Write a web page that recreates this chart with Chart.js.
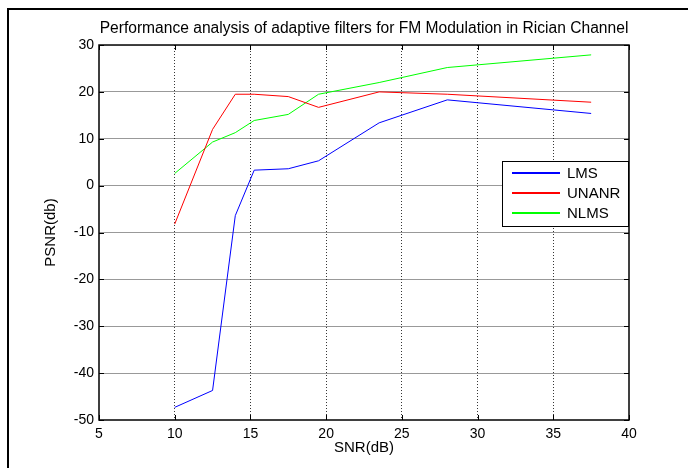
<!DOCTYPE html>
<html>
<head>
<meta charset="utf-8">
<script src="https://cdn.jsdelivr.net/npm/chart.js@4.4.0/dist/chart.umd.min.js"></script>
<style>
html,body{margin:0;padding:0;background:#fff;}
#wrap{width:688px;height:468px;}
</style>
</head>
<body>
<div id="wrap"><canvas id="c" width="688" height="468"></canvas></div>
<script>
const snr = [10, 12.5, 14, 15.25, 17.5, 19.5, 23.5, 28, 37.5];
const lms = [-47.3, -43.7, -6.4, 3.3, 3.6, 5.3, 13.4, 18.3, 15.4];
const unanr = [-8.2, 12.0, 19.5, 19.5, 19.0, 16.7, 20.0, 19.5, 17.8];
const nlms = [2.6, 9.3, 11.3, 13.9, 15.2, 19.5, 22.0, 25.2, 27.9];
const xTicks = [5, 10, 15, 20, 25, 30, 35, 40];
const yTicks = [-50, -40, -30, -20, -10, 0, 10, 20, 30];
const seriesNames = ['LMS', 'UNANR', 'NLMS'];
const seriesColors = ['#0000ff', '#ff0000', '#00ff00'];

const FONT = 'Liberation Sans, Arial, sans-serif';

function pts(ys){ return snr.map((x,i)=>({x:x, y:ys[i]})); }

const framePlugin = {
  id: 'frame',
  beforeDraw(chart){
    const ctx = chart.ctx;
    ctx.save();
    ctx.fillStyle = '#fff';
    ctx.fillRect(0,0,chart.width,chart.height);
    ctx.fillStyle = '#000';
    ctx.fillRect(7, 8, 2, chart.height - 8);
    ctx.fillRect(7, 8, chart.width - 7, 2);
    ctx.restore();
  }
};

const boxPlugin = {
  id: 'box',
  afterDatasetsDraw(chart){
    const ctx = chart.ctx;
    const a = chart.chartArea;
    const xs = chart.scales.x, ys = chart.scales.y;
    ctx.save();
    ctx.setLineDash([]);
    ctx.strokeStyle = '#000';
    ctx.lineWidth = 1;
    ctx.beginPath();
    const tl = 5;
    xTicks.forEach(v=>{
      const px = Math.round(xs.getPixelForValue(v)) + 0.5;
      ctx.moveTo(px, a.bottom); ctx.lineTo(px, a.bottom - tl);
      ctx.moveTo(px, a.top); ctx.lineTo(px, a.top + tl);
    });
    yTicks.forEach(v=>{
      const py = Math.round(ys.getPixelForValue(v)) + 0.5;
      ctx.moveTo(a.left, py); ctx.lineTo(a.left + tl, py);
      ctx.moveTo(a.right, py); ctx.lineTo(a.right - tl, py);
    });
    ctx.stroke();
    ctx.lineWidth = 1.5;
    ctx.strokeRect(a.left, a.top, a.right - a.left, a.bottom - a.top);

    // legend
    const lx = 502, ly = 161, lw = 126, lh = 65;
    ctx.fillStyle = '#fff';
    ctx.fillRect(lx, ly, lw, lh);
    ctx.lineWidth = 1;
    ctx.strokeStyle = '#000';
    ctx.strokeRect(lx + 0.5, ly + 0.5, lw, lh);
    ctx.font = '15px ' + FONT;
    ctx.textBaseline = 'middle';
    ctx.textAlign = 'left';
    for (let i = 0; i < seriesNames.length; i++) {
      const yy = ly + 11 + i * 20;
      ctx.fillStyle = seriesColors[i];
      ctx.fillRect(512, yy, 48, 2);
    }
    ctx.fillStyle = '#000';
    for (let i = 0; i < seriesNames.length; i++) {
      const yy = ly + 12 + i * 20;
      ctx.fillText(seriesNames[i], 567, yy + 1);
    }
    ctx.restore();
  }
};

new Chart(document.getElementById('c'), {
  type: 'line',
  data: {
    datasets: seriesNames.map((n,i)=>({
      label: n,
      data: pts([lms, unanr, nlms][i]),
      borderColor: seriesColors[i],
      backgroundColor: seriesColors[i],
      borderWidth: 1,
      pointRadius: 0,
      tension: 0,
      fill: false
    }))
  },
  options: {
    responsive: false,
    animation: false,
    devicePixelRatio: 1,
    layout: { padding: { left: 0, right: 59, top: 0, bottom: 0 } },
    plugins: {
      legend: { display: false },
      tooltip: { enabled: false },
      title: {
        display: true,
        fullSize: false,
        text: 'Performance analysis of adaptive filters for FM Modulation in Rician Channel',
        color: '#000',
        font: { family: FONT, size: 15.6, weight: 'normal' },
        padding: { top: 19, bottom: 7.3 }
      }
    },
    scales: {
      x: {
        type: 'linear',
        min: 5, max: 40,
        afterBuildTicks(s){ s.ticks = xTicks.map(v=>({value:v})); },
        afterFit(s){ s.height = 48; },
        border: { display: false, dash: [1, 2] },
        grid: {
          drawTicks: false,
          color: (c)=> (c.tick && (c.tick.value === 5 || c.tick.value === 40)) ? 'rgba(0,0,0,0)' : '#333',
          lineWidth: 1,
        },
        ticks: { color: '#000', font: { family: FONT, size: 14 }, padding: 6, maxRotation: 0 },
        title: { display: true, text: 'SNR(dB)', color: '#000', font: { family: FONT, size: 15 }, padding: { top: 0, bottom: 11 } }
      },
      y: {
        type: 'linear',
        min: -50, max: 30,
        afterBuildTicks(s){ s.ticks = yTicks.map(v=>({value:v})); },
        afterFit(s){ s.width = 99; },
        border: { display: false },
        grid: {
          drawTicks: false,
          color: (c)=> (c.tick && (c.tick.value === -50 || c.tick.value === 30)) ? 'rgba(0,0,0,0)' : 'rgba(0,0,0,0.4)',
          lineWidth: 1
        },
        ticks: { color: '#000', font: { family: FONT, size: 14 }, padding: 5 },
        title: { display: true, text: 'PSNR(db)', color: '#000', font: { family: FONT, size: 15 }, padding: { top: 42, bottom: 0 } }
      }
    }
  },
  plugins: [framePlugin, boxPlugin]
});
</script>
</body>
</html>
